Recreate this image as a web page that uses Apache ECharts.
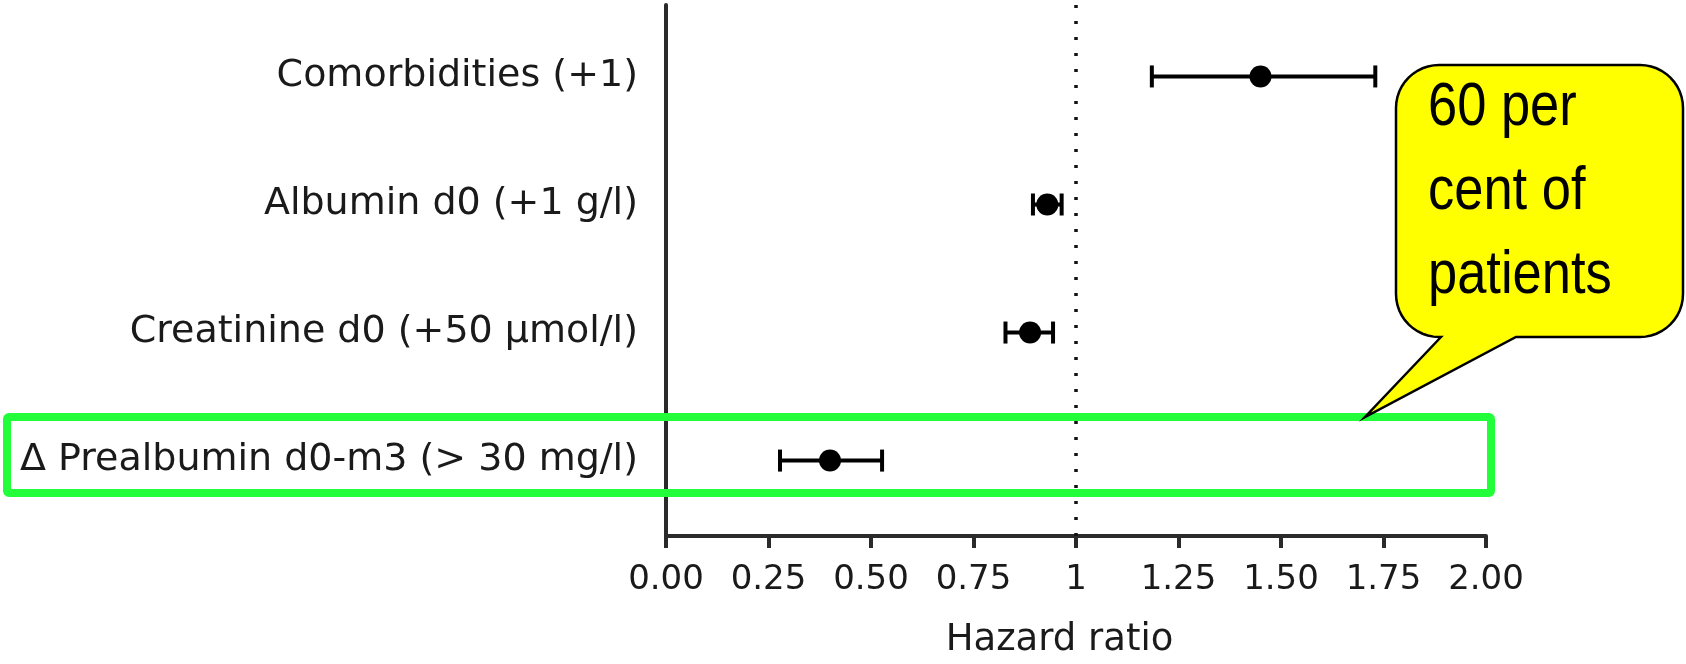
<!DOCTYPE html>
<html>
<head>
<meta charset="utf-8">
<script src="https://cdn.jsdelivr.net/npm/echarts@6/dist/echarts.min.js"></script>
<style>
html,body{margin:0;padding:0;background:#fff;}
#chart{width:1686px;height:664px;}
</style>
</head>
<body>
<div id="chart"></div>
<script>
// ---- data ----
const categories = ['Comorbidities (+1)', 'Albumin d0 (+1 g/l)', 'Creatinine d0 (+50 µmol/l)', 'Δ Prealbumin d0-m3 (> 30 mg/l)'];
const hazardRatio = [1.45, 0.93, 0.888, 0.40];
const ciLow = [1.185, 0.895, 0.828, 0.278];
const ciHigh = [1.73, 0.965, 0.944, 0.527];
const xTickValues = [0, 0.25, 0.5, 0.75, 1, 1.25, 1.5, 1.75, 2];
const xTickLabels = ['0.00', '0.25', '0.50', '0.75', '1', '1.25', '1.50', '1.75', '2.00'];
const referenceValue = 1;
const axisTitle = 'Hazard ratio';
const calloutLines = ['60 per', 'cent of', 'patients'];

const chart = echarts.init(document.getElementById('chart'), null, {renderer: 'canvas'});
const FONT = '"DejaVu Sans", "Liberation Sans", sans-serif';
const INK = '#1a1a1a';

const labelData = categories.map((c, i) => [0, i, c]);
const dotData = hazardRatio.map((v, i) => [v, i]);
const barData = categories.map((c, i) => [i, ciLow[i], ciHigh[i]]);

// speech-bubble outline (rounded box with a tail)
function bubblePoints(L, T, R, B, r, tail) {
  const pts = [];
  function arc(cx, cy, a0, a1) {
    const n = 12;
    for (let k = 0; k <= n; k++) {
      const a = a0 + (a1 - a0) * k / n;
      pts.push([cx + r * Math.cos(a), cy + r * Math.sin(a)]);
    }
  }
  pts.push([tail.x0, B]);
  pts.push([tail.tx, tail.ty]);
  pts.push([tail.x1, B]);
  arc(R - r, B - r, Math.PI / 2, 0);
  arc(R - r, T + r, 0, -Math.PI / 2);
  arc(L + r, T + r, -Math.PI / 2, -Math.PI);
  arc(L + r, B - r, Math.PI, Math.PI / 2);
  return pts;
}
const bubble = bubblePoints(1396, 65, 1683, 337, 43, {x0: 1441, x1: 1516, tx: 1365, ty: 417});

const option = {
  backgroundColor: '#ffffff',
  animation: false,
  grid: {left: 666, right: 200, top: 5, bottom: 124, containLabel: false},
  xAxis: {
    type: 'value', min: 0, max: 2, interval: 0.25,
    name: axisTitle, nameLocation: 'middle', nameGap: 86,
    nameTextStyle: {fontFamily: FONT, fontSize: 37, color: INK, padding: [0, 33, 0, 0]},
    axisLine: {show: true, onZero: false, lineStyle: {color: '#2a2a2a', width: 4}},
    axisTick: {show: true, length: 12, lineStyle: {color: '#2a2a2a', width: 4}},
    axisLabel: {
      margin: 27, fontFamily: FONT, fontSize: 34, color: INK,
      formatter: function (v) {
        const k = xTickValues.findIndex(t => Math.abs(t - v) < 1e-9);
        return k >= 0 ? xTickLabels[k] : '';
      }
    },
    splitLine: {show: false}
  },
  yAxis: {
    type: 'value', inverse: true, min: -0.558, max: 3.589,
    axisLine: {show: true, onZero: false, lineStyle: {color: '#2a2a2a', width: 4}},
    axisTick: {show: false}, axisLabel: {show: false}, splitLine: {show: false}
  },
  series: [
    {
      type: 'scatter', data: labelData, symbolSize: 0, clip: false, silent: true,
      itemStyle: {opacity: 1, color: INK},
      label: {
        show: true, position: 'left', distance: 28,
        fontFamily: FONT, fontSize: 38, color: INK, opacity: 1,
        formatter: p => p.data[2]
      },
      z: 5
    },
    {
      type: 'custom', data: barData, clip: false,
      encode: {x: [1, 2], y: 0},
      renderItem: function (params, api) {
        const i = api.value(0);
        const lo = api.coord([api.value(1), i]);
        const hi = api.coord([api.value(2), i]);
        const st = {stroke: '#000', lineWidth: 4};
        return {
          type: 'group',
          children: [
            {type: 'line', shape: {x1: lo[0], y1: lo[1], x2: hi[0], y2: hi[1]}, style: st},
            {type: 'line', shape: {x1: lo[0], y1: lo[1] - 11, x2: lo[0], y2: lo[1] + 11}, style: st},
            {type: 'line', shape: {x1: hi[0], y1: hi[1] - 11, x2: hi[0], y2: hi[1] + 11}, style: st}
          ]
        };
      },
      z: 6
    },
    {
      type: 'scatter', data: dotData, symbol: 'circle', symbolSize: 22,
      itemStyle: {color: '#000', opacity: 1},
      markLine: {
        silent: true, symbol: ['none', 'none'], label: {show: false},
        lineStyle: {type: [3, 13], width: 3.5, color: '#111', opacity: 1},
        data: [{xAxis: referenceValue}]
      },
      z: 7
    }
  ],
  graphic: [
    {
      type: 'rect', z: 100,
      shape: {x: 7, y: 417, width: 1484, height: 76, r: 2},
      style: {fill: 'none', stroke: '#22ff3a', lineWidth: 8}
    },
    {
      type: 'polygon', z: 110,
      shape: {points: bubble},
      style: {fill: '#ffff00', stroke: '#000', lineWidth: 2.5, lineJoin: 'miter'}
    },
    ...calloutLines.map((t, i) => ({
      type: 'text', z: 120,
      x: 1428, y: 108 + i * 84,
      scaleX: 0.86,
      style: {
        text: t, fill: '#000',
        font: '61px "Liberation Sans", Arial, sans-serif',
        textAlign: 'left', textVerticalAlign: 'middle'
      }
    }))
  ]
};
chart.setOption(option);
</script>
</body>
</html>
